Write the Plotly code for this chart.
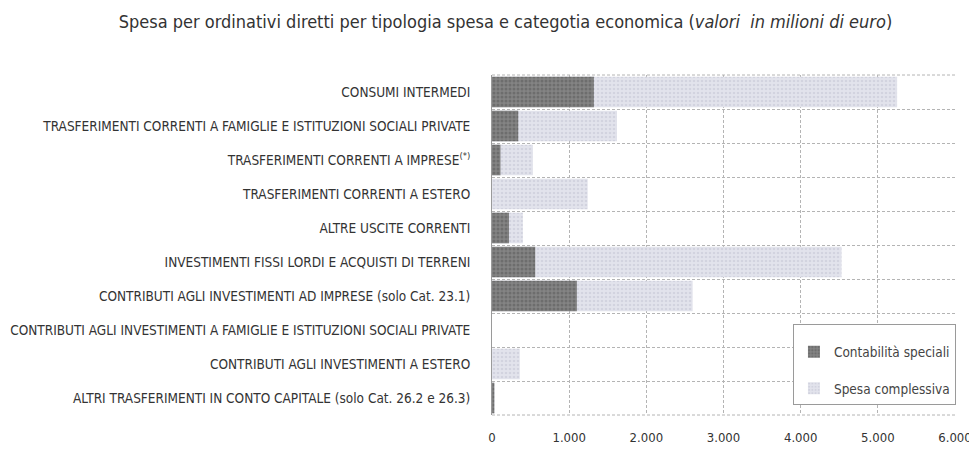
import plotly.graph_objects as go

# categorie (dall'alto verso il basso)
categorie = [
    "CONSUMI INTERMEDI",
    "TRASFERIMENTI CORRENTI A FAMIGLIE E ISTITUZIONI SOCIALI PRIVATE",
    "TRASFERIMENTI CORRENTI A IMPRESE<sup>(*)</sup>",
    "TRASFERIMENTI CORRENTI A ESTERO",
    "ALTRE USCITE CORRENTI",
    "INVESTIMENTI FISSI LORDI E ACQUISTI DI TERRENI",
    "CONTRIBUTI AGLI INVESTIMENTI AD IMPRESE (solo Cat. 23.1)",
    "CONTRIBUTI AGLI INVESTIMENTI A FAMIGLIE E ISTITUZIONI SOCIALI PRIVATE",
    "CONTRIBUTI AGLI INVESTIMENTI A ESTERO",
    "ALTRI TRASFERIMENTI IN CONTO CAPITALE (solo Cat. 26.2 e 26.3)",
]

# valori in milioni di euro
spesa_complessiva = [5250, 1620, 530, 1240, 400, 4530, 2600, 0, 360, 30]
contabilita_speciali = [1320, 340, 110, 0, 220, 560, 1100, 0, 0, 30]

pos = list(range(len(categorie)))

FONT = "DejaVu Sans Condensed, Liberation Sans Narrow, sans-serif"
GRID = "#b4b4b4"

fig = go.Figure()

fig.add_trace(go.Bar(
    name="Spesa complessiva",
    y=pos, x=spesa_complessiva, orientation="h",
    marker=dict(color="#e2e3ec", line=dict(width=0),
                pattern=dict(shape=".", fgcolor="#c2c4d2", size=4, solidity=0.35)),
    legendrank=2, legendgroup="b",
))
fig.add_trace(go.Bar(
    name="Contabilità speciali",
    y=pos, x=contabilita_speciali, orientation="h",
    marker=dict(color="#848484", line=dict(width=0),
                pattern=dict(shape=".", fgcolor="#555555", size=4, solidity=0.45)),
    legendrank=1, legendgroup="a",
))

# la pagina aggiunge 8px di margine: figura leggermente più piccola
fig.update_layout(
    width=966, height=436,
    barmode="overlay", bargap=0.1,
    separators=",.",
    plot_bgcolor="white", paper_bgcolor="white",
    margin=dict(l=484, r=19, t=67, b=29, autoexpand=False),
    font=dict(family=FONT, color="#333333"),
    title=dict(
        text="Spesa per ordinativi diretti per tipologia spesa e categotia economica (<i>valori  in milioni di euro</i>)",
        x=0.515, xanchor="center", y=0.968, yanchor="middle",
        font=dict(size=18, family=FONT, color="#333333"),
    ),
    legend=dict(
        x=0.65, y=0.03, xanchor="left", yanchor="bottom",
        bordercolor="#9a9a9a", borderwidth=1, bgcolor="white",
        font=dict(size=13.5, family=FONT, color="#444444"),
        title=dict(text=" ", font=dict(size=9)),
        tracegroupgap=16, itemwidth=30,
    ),
    showlegend=True,
)

fig.update_xaxes(
    range=[0, 6000], tickvals=[0, 1000, 2000, 3000, 4000, 5000, 6000],
    tickformat=",.0f", automargin=False,
    showgrid=True, gridcolor=GRID, griddash="3px,2px", gridwidth=1,
    zeroline=False, showline=False,
    ticks="outside", ticklen=10, tickcolor="rgba(0,0,0,0)",
    tickfont=dict(size=13, family=FONT, color="#333333"),
)

fig.update_yaxes(
    tickmode="array", tickvals=pos, ticktext=categorie,
    range=[len(categorie) - 0.5, -0.5], automargin=False,
    showgrid=False, zeroline=False,
    showline=True, linecolor="#9a9a9a", linewidth=1, mirror=False,
    ticks="outside", ticklen=18, tickcolor="rgba(0,0,0,0)",
    tickfont=dict(size=13.5, family=FONT, color="#333333"),
    minor=dict(tick0=0.5, dtick=1, showgrid=True, gridcolor=GRID, griddash="3px,2px", ticklen=0),
)

# bordo superiore e inferiore tratteggiati
fig.add_shape(type="line", xref="paper", yref="paper", x0=0, x1=1, y0=1, y1=1,
              line=dict(color=GRID, width=1, dash="3px,2px"))
fig.add_shape(type="line", xref="paper", yref="paper", x0=0, x1=1, y0=0, y1=0,
              line=dict(color=GRID, width=1, dash="3px,2px"))

fig.write_html("out.html")
